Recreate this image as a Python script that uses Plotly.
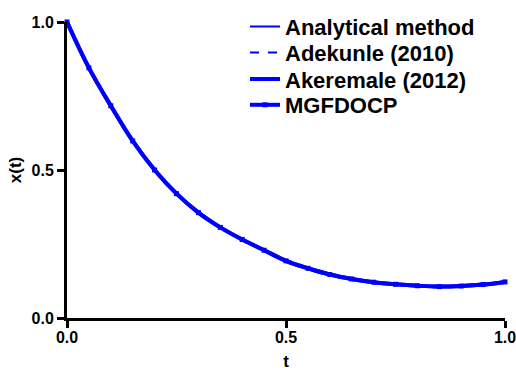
import plotly.graph_objects as go

t_values = [0.00, 0.05, 0.10, 0.15, 0.20, 0.25, 0.30, 0.35, 0.40, 0.45, 0.50,
            0.55, 0.60, 0.65, 0.70, 0.75, 0.80, 0.85, 0.90, 0.95, 1.00]
x_analytical = [1.000, 0.845, 0.717, 0.598, 0.500, 0.420, 0.356, 0.306, 0.265, 0.229, 0.193,
                0.168, 0.147, 0.132, 0.121, 0.114, 0.109, 0.106, 0.108, 0.113, 0.122]
x_adekunle = list(x_analytical)
x_akeremale = list(x_analytical)
x_mgfdocp = list(x_analytical)

tick_vals = [0.0, 0.5, 1.0]
tick_text = ["0.0", "0.5", "1.0"]

BLUE = "#0000FF"
FONT = "Liberation Sans, Arial, sans-serif"

fig = go.Figure()
fig.add_trace(go.Scatter(x=t_values, y=x_analytical, name="Analytical method", mode="lines",
                         line=dict(color=BLUE, width=2, shape="spline"), cliponaxis=False,
                         legend="legend"))
fig.add_trace(go.Scatter(x=t_values, y=x_adekunle, name="Adekunle (2010)", mode="lines",
                         line=dict(color=BLUE, width=2, dash="dash", shape="spline"), cliponaxis=False,
                         legend="legend2"))
fig.add_trace(go.Scatter(x=t_values, y=x_akeremale, name="Akeremale (2012)", mode="lines",
                         line=dict(color=BLUE, width=4, shape="spline"), cliponaxis=False,
                         legend="legend3"))
fig.add_trace(go.Scatter(x=t_values, y=x_mgfdocp, name="MGFDOCP", mode="lines+markers",
                         line=dict(color=BLUE, width=4, shape="spline"),
                         marker=dict(symbol="square", size=5, color=BLUE), cliponaxis=False,
                         legend="legend4"))

axis_common = dict(
    showline=True, linewidth=3, linecolor="black", mirror=False,
    ticks="outside", ticklen=7, tickwidth=3, tickcolor="black",
    showgrid=False, zeroline=False, range=[0, 1],
    tickvals=tick_vals, ticktext=tick_text, ticklabeloverflow="allow",
    tickfont=dict(family=FONT, size=16, color="black", weight="bold"),
)

PLOT_TOP, PLOT_BOTTOM = 22, 318
legend_x = (245 - 67) / 438
row_centers = [26.7, 52.7, 79.3, 105.0]


def legend_at(py):
    return dict(x=legend_x, y=(PLOT_BOTTOM - py) / (PLOT_BOTTOM - PLOT_TOP),
                xanchor="left", yanchor="middle",
                bgcolor="rgba(0,0,0,0)", borderwidth=0, itemwidth=30,
                font=dict(family=FONT, size=22, color="black", weight="bold"))


fig.update_layout(
    width=516, height=371,
    margin=dict(l=67, r=11, t=PLOT_TOP, b=371 - PLOT_BOTTOM, autoexpand=False),
    paper_bgcolor="white", plot_bgcolor="white",
    xaxis=dict(**axis_common, ticklabelstandoff=-4,
               title=dict(text="t", font=dict(family=FONT, size=17, color="black", weight="bold"), standoff=18)),
    yaxis=dict(**axis_common,
               title=dict(text="x(t)", font=dict(family=FONT, size=17, color="black", weight="bold"), standoff=6)),
    showlegend=True,
    legend=legend_at(row_centers[0]),
    legend2=legend_at(row_centers[1]),
    legend3=legend_at(row_centers[2]),
    legend4=legend_at(row_centers[3]),
)

fig.write_html("out.html")
